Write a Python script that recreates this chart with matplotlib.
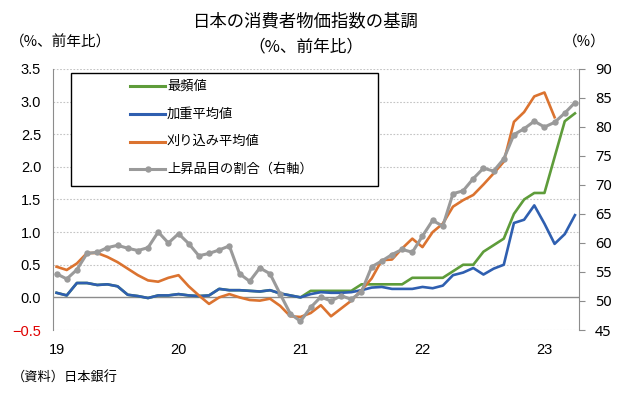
import numpy as np
import matplotlib
matplotlib.use("Agg")
import matplotlib.pyplot as plt
from matplotlib.lines import Line2D
from matplotlib.patches import Rectangle

plt.rcParams['font.family'] = ['Noto Sans CJK JP', 'DejaVu Sans']

# ---- data (monthly, Jan 2019 - Apr 2023) ----
year_labels = ['19', '20', '21', '22', '23']
series_names = ['最頻値', '加重平均値', '刈り込み平均値', '上昇品目の割合（右軸）']

mode_vals = [0.07, 0.03, 0.22, 0.22, 0.19, 0.20, 0.17, 0.04, 0.02, -0.01, 0.03, 0.03,
             0.05, 0.03, 0.02, 0.03, 0.13, 0.11, 0.11, 0.10, 0.09, 0.11, 0.06, 0.03,
             0.00, 0.10, 0.10, 0.10, 0.10, 0.10, 0.20, 0.20, 0.20, 0.20, 0.20, 0.30,
             0.30, 0.30, 0.30, 0.40, 0.50, 0.50, 0.70, 0.80, 0.90, 1.28, 1.50, 1.60,
             1.60, 2.15, 2.70, 2.82]
wmed_vals = [0.07, 0.03, 0.22, 0.22, 0.19, 0.20, 0.17, 0.04, 0.02, -0.01, 0.03, 0.03,
             0.05, 0.03, 0.02, 0.03, 0.13, 0.11, 0.11, 0.10, 0.09, 0.11, 0.06, 0.03,
             0.00, 0.05, 0.08, 0.07, 0.07, 0.08, 0.11, 0.15, 0.16, 0.13, 0.13, 0.13,
             0.16, 0.14, 0.18, 0.34, 0.38, 0.45, 0.35, 0.44, 0.50, 1.14, 1.19, 1.41,
             1.13, 0.82, 0.97, 1.26]
trim_vals = [0.47, 0.42, 0.52, 0.68, 0.68, 0.62, 0.54, 0.44, 0.34, 0.26, 0.24, 0.30,
             0.34, 0.17, 0.03, -0.10, 0.00, 0.05, 0.00, -0.04, -0.05, -0.02, -0.13, -0.29,
             -0.30, -0.24, -0.12, -0.29, -0.17, -0.05, 0.11, 0.29, 0.57, 0.58, 0.75, 0.90,
             0.77, 1.00, 1.13, 1.39, 1.49, 1.57, 1.73, 1.90, 2.08, 2.69, 2.84, 3.08,
             3.14, 2.76, np.nan, np.nan]
share_vals = [54.7, 53.8, 55.4, 58.2, 58.4, 59.2, 59.6, 59.1, 58.7, 59.2, 61.9, 60.0,
              61.6, 59.9, 57.8, 58.2, 58.8, 59.5, 54.7, 53.4, 55.7, 54.7, 51.2, 47.8,
              46.5, 48.9, 50.7, 50.0, 50.9, 50.3, 51.6, 55.9, 56.9, 58.0, 58.9, 58.4,
              61.2, 63.9, 62.9, 68.5, 69.0, 71.1, 72.9, 72.4, 74.5, 78.7, 79.7, 81.0,
              80.0, 80.8, 82.4, 84.2]

left_ticks = [-0.5, 0.0, 0.5, 1.0, 1.5, 2.0, 2.5, 3.0, 3.5]
left_tick_labels = ['−0.5', '0.0', '0.5', '1.0', '1.5', '2.0', '2.5', '3.0', '3.5']
right_ticks = [45, 50, 55, 60, 65, 70, 75, 80, 85, 90]

# ---- styles ----
C_GREEN = '#5e9c3a'
C_BLUE = '#2f5fb0'
C_ORANGE = '#db7330'
C_GRAY = '#9a9a9a'
C_AXIS = '#8c8c8c'

W, H = 636, 394
fig = plt.figure(figsize=(W / 100, H / 100), dpi=100)
ax = fig.add_axes([53 / W, 1 - 330 / H, 526 / W, 261 / H])
ax2 = ax.twinx()

x = np.arange(len(share_vals))

ax.set_xlim(-0.35, 51.4)
ax.set_ylim(-0.5, 3.5)
ax2.set_ylim(45, 90)

for v in left_ticks:
    if v != 0:
        ax.axhline(v, color='#c4c4c4', lw=0.8, ls=(0, (1.5, 1.5)), zorder=0)
ax.axhline(0, color=C_AXIS, lw=1.0, zorder=1)

lw = 1.9
ax.plot(x, mode_vals, color=C_GREEN, lw=lw, zorder=2)
ax.plot(x, wmed_vals, color=C_BLUE, lw=lw, zorder=3)
ax.plot(x, trim_vals, color=C_ORANGE, lw=lw, zorder=4)
ax2.plot(x, share_vals, color=C_GRAY, lw=2.2, marker='o', markersize=4.6,
         markeredgewidth=0, zorder=5)

# spines
for s in ['top', 'bottom', 'right']:
    ax.spines[s].set_visible(False)
ax.spines['left'].set_color(C_AXIS)
for s in ['top', 'bottom', 'left']:
    ax2.spines[s].set_visible(False)
ax2.spines['right'].set_color(C_AXIS)

ax.set_yticks(left_ticks)
ax.set_yticklabels(left_tick_labels, fontfamily='Liberation Sans', fontsize=10.5)
ax.get_yticklabels()[0].set_color('#e00000')
ax.tick_params(axis='y', length=0, pad=8.5)

ax.set_xticks([0, 12, 24, 36, 48])
ax.set_xticklabels(year_labels, fontfamily='Liberation Sans', fontsize=10.5)
ax.tick_params(axis='x', length=0, pad=9)

ax2.set_yticks(right_ticks)
ax2.set_yticklabels([str(v) for v in right_ticks], fontfamily='Noto Sans', fontsize=10.5)
ax2.tick_params(axis='y', direction='out', length=4.5, width=0.8, color=C_AXIS, pad=7)

# ---- titles and notes ----
def fx(px):
    return px / W

def fy(py):
    return 1 - py / H

fig.text(fx(306), fy(21), '日本の消費者物価指数の基調', ha='center', va='center', fontsize=12.5)
fig.text(fx(306), fy(47), '（%、前年比）', ha='center', va='center', fontsize=12)
fig.text(fx(10), fy(42), '（%、前年比）', ha='left', va='center', fontsize=10.5)
fig.text(fx(606), fy(42), '（%）', ha='right', va='center', fontsize=10.5)
fig.text(fx(12), fy(378), '（資料）日本銀行', ha='left', va='center', fontsize=9.5)

# ---- legend (custom box) ----
box = Rectangle((fx(71), fy(186)), fx(378) - fx(71), fy(73) - fy(186),
                transform=fig.transFigure, facecolor='white', edgecolor='black',
                lw=1.0, zorder=10)
fig.add_artist(box)
rows = [86, 114, 141.5, 169]
colors = [C_GREEN, C_BLUE, C_ORANGE, C_GRAY]
for name, c, ry in zip(series_names, colors, rows):
    ln = Line2D([fx(130), fx(165)], [fy(ry), fy(ry)], transform=fig.transFigure,
                color=c, lw=2.2, zorder=11)
    fig.add_artist(ln)
    if c == C_GRAY:
        mk = Line2D([fx(147.5)], [fy(ry)], transform=fig.transFigure, color=c,
                    marker='o', markersize=4.6, markeredgewidth=0, zorder=12)
        fig.add_artist(mk)
    fig.text(fx(167), fy(ry), name, ha='left', va='center', fontsize=9.5, zorder=12)

fig.savefig('out.png', dpi=100)
